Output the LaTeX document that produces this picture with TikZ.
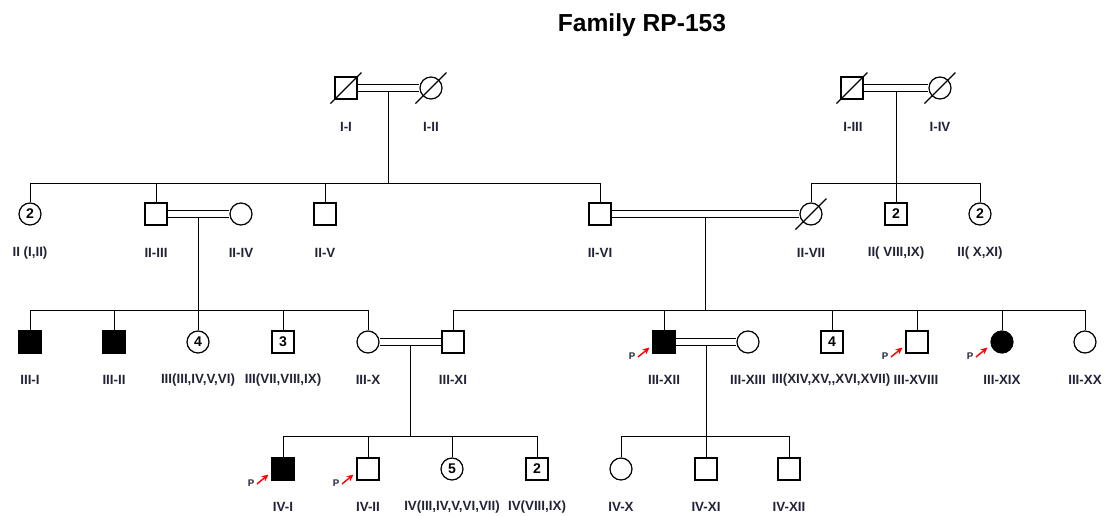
\documentclass[tikz,border=0pt]{standalone}
\usepackage{fontspec}
\setmainfont{Liberation Sans}
\usetikzlibrary{calc,arrows.meta,backgrounds}
\definecolor{labcol}{RGB}{35,35,55}
\newcommand{\deceased}[1]{\draw[line width=0.7pt] ($(#1)+(-15.5,15.5)$) -- ($(#1)+(15.5,-15.5)$);}
\newcommand{\proband}[1]{%
  \draw[parrow] ($(#1)+(-26,15)$) -- ($(#1)+(-14.5,5.5)$);
  \node[plab] at ($(#1)+(-32,14)$) {P};}
\begin{document}
\begin{tikzpicture}[x=0.02cm,y=-0.02cm,
  line width=0.7pt,
  sym/.style={draw, line width=0.7pt, minimum size=0.44cm, inner sep=0pt, font=\bfseries\fontsize{8}{8}\selectfont},
  male/.style={sym, rectangle},
  female/.style={sym, circle},
  aff/.style={fill=black},
  lab/.style={font=\bfseries\fontsize{7.6}{8}\selectfont, text=labcol, inner sep=0pt},
  mar/.style={double distance=0.125cm, line width=0.7pt},
  parrow/.style={red, line width=0.8pt, -{Stealth[length=4pt,width=3.5pt]}},
  plab/.style={font=\bfseries\fontsize{5.5}{6}\selectfont, text=labcol, inner sep=0pt},
]
\useasboundingbox (0,0) rectangle (1107,515);

\node[font=\bfseries\fontsize{14}{16}\selectfont] (title) at (642,25) {Family RP-153};

% Generation I
\node[male]   (i1) at (346,88) {};
\node[female] (i2) at (431,88) {};
\node[male]   (i3) at (852,88) {};
\node[female] (i4) at (940,88) {};
\node[lab] (li1) at (346,127) {I-I};
\node[lab] (li2) at (431,127) {I-II};
\node[lab] (li3) at (853,127) {I-III};
\node[lab] (li4) at (940,127) {I-IV};

% Generation II
\node[female] (ii12) at (30,214) {2};
\node[male]   (ii3)  at (156,214) {};
\node[female] (ii4)  at (241,214) {};
\node[male]   (ii5)  at (325,214) {};
\node[male]   (ii6)  at (600,214) {};
\node[female] (ii7)  at (811,214) {};
\node[male]   (ii89) at (896,214) {2};
\node[female] (ii1011) at (980,214) {2};
\node[lab] (lii12) at (30,253) {II (I,II)};
\node[lab] (lii3) at (156,253) {II-III};
\node[lab] (lii4) at (241,253) {II-IV};
\node[lab] (lii5) at (325,253) {II-V};
\node[lab] (lii6) at (600,253) {II-VI};
\node[lab] (lii7) at (811,253) {II-VII};
\node[lab] (lii89) at (896,253) {II( VIII,IX)};
\node[lab] (lii1011) at (980,253) {II( X,XI)};

% Generation III
\node[male,aff]   (iii1)  at (30,342) {};
\node[male,aff]   (iii2)  at (114,342) {};
\node[female]     (iii36) at (198,342) {4};
\node[male]       (iii79) at (283,342) {3};
\node[female]     (iii10) at (368,342) {};
\node[male]       (iii11) at (453,342) {};
\node[male,aff]   (iii12) at (664,342) {};
\node[female]     (iii13) at (748,342) {};
\node[male]       (iii1417) at (832,342) {4};
\node[male]       (iii18) at (917,342) {};
\node[female,aff] (iii19) at (1002,342) {};
\node[female]     (iii20) at (1085,342) {};
\node[lab] (liii1) at (30,380) {III-I};
\node[lab] (liii2) at (114,380) {III-II};
\node[lab] (liii36) at (198,380) {III(III,IV,V,VI)};
\node[lab] (liii79) at (283,380) {III(VII,VIII,IX)};
\node[lab] (liii10) at (368,380) {III-X};
\node[lab] (liii11) at (453,380) {III-XI};
\node[lab] (liii12) at (664,380) {III-XII};
\node[lab] (liii13) at (748,380) {III-XIII};
\node[lab] (liii1417) at (831,380) {III(XIV,XV,{},XVI,XVII)};
\node[lab] (liii18) at (916,380) {III-XVIII};
\node[lab] (liii19) at (1002,380) {III-XIX};
\node[lab] (liii20) at (1085,380) {III-XX};

% Generation IV
\node[male,aff] (iv1)  at (283,469) {};
\node[male]     (iv2)  at (368,469) {};
\node[female]   (iv37) at (452,469) {5};
\node[male]     (iv89) at (537,469) {2};
\node[female]   (iv10) at (621,469) {};
\node[male]     (iv11) at (706,469) {};
\node[male]     (iv12) at (789,469) {};
\node[lab] (liv1) at (283,507) {IV-I};
\node[lab] (liv2) at (368,507) {IV-II};
\node[lab] (liv37) at (452,507) {IV(III,IV,V,VI,VII)};
\node[lab] (liv89) at (537,507) {IV(VIII,IX)};
\node[lab] (liv10) at (621,507) {IV-X};
\node[lab] (liv11) at (706,507) {IV-XI};
\node[lab] (liv12) at (789,507) {IV-XII};

% deceased marks
\deceased{i1}
\deceased{i2}
\deceased{i3}
\deceased{i4}
\deceased{ii7}

% probands
\proband{iii12}
\proband{iii18}
\proband{iii19}
\proband{iv1}
\proband{iv2}

% sibship levels and marriage descent points
\coordinate (sII) at (0,183);
\coordinate (sIII) at (0,310);
\coordinate (sIV) at (0,436);
\coordinate (m1) at ($(i1)!0.5!(i2)+(0,3.5)$);
\coordinate (m2) at ($(i3)!0.5!(i4)+(0,3.5)$);
\coordinate (m3) at ($(ii3)!0.5!(ii4)+(0,3.5)$);
\coordinate (m4) at ($(ii6)!0.5!(ii7)+(0,3.5)$);
\coordinate (m5) at ($(iii10)!0.5!(iii11)+(0,3.5)$);
\coordinate (m6) at ($(iii12)!0.5!(iii13)+(0,3.5)$);

\begin{scope}[on background layer]
  % marriages
  \draw[mar] (i1) -- (i2);
  \draw[mar] (i3) -- (i4);
  \draw[mar] (ii3) -- (ii4);
  \draw[mar] (ii6) -- (ii7);
  \draw[mar] (iii10) -- (iii11);
  \draw[mar] (iii12) -- (iii13);
  % gen II left
  \draw (m1) -- (m1 |- sII);
  \draw (ii12.north) -- (ii12.north |- sII) -| (ii6.north);
  \draw (ii3.north) -- (ii3.north |- sII);
  \draw (ii5.north) -- (ii5.north |- sII);
  % gen II right
  \draw (m2) -- (ii89.north);
  \draw (ii7.north) -- (ii7.north |- sII) -| (ii1011.north);
  % gen III left
  \draw (m3) -- (m3 |- sIII);
  \draw (iii1.north) -- (iii1.north |- sIII) -| (iii10.north);
  \draw (iii2.north) -- (iii2.north |- sIII);
  \draw (iii36.north) -- (iii36.north |- sIII);
  \draw (iii79.north) -- (iii79.north |- sIII);
  % gen III right
  \draw (m4) -- (m4 |- sIII);
  \draw (iii11.north) -- (iii11.north |- sIII) -| (iii20.north);
  \draw (iii12.north) -- (iii12.north |- sIII);
  \draw (iii1417.north) -- (iii1417.north |- sIII);
  \draw (iii18.north) -- (iii18.north |- sIII);
  \draw (iii19.north) -- (iii19.north |- sIII);
  % gen IV left
  \draw (m5) -- (m5 |- sIV);
  \draw (iv1.north) -- (iv1.north |- sIV) -| (iv89.north);
  \draw (iv2.north) -- (iv2.north |- sIV);
  \draw (iv37.north) -- (iv37.north |- sIV);
  % gen IV right
  \draw (m6) -- (m6 |- sIV);
  \draw (iv10.north) -- (iv10.north |- sIV) -| (iv12.north);
  \draw (iv11.north) -- (iv11.north |- sIV);
\end{scope}
\end{tikzpicture}
\end{document}
